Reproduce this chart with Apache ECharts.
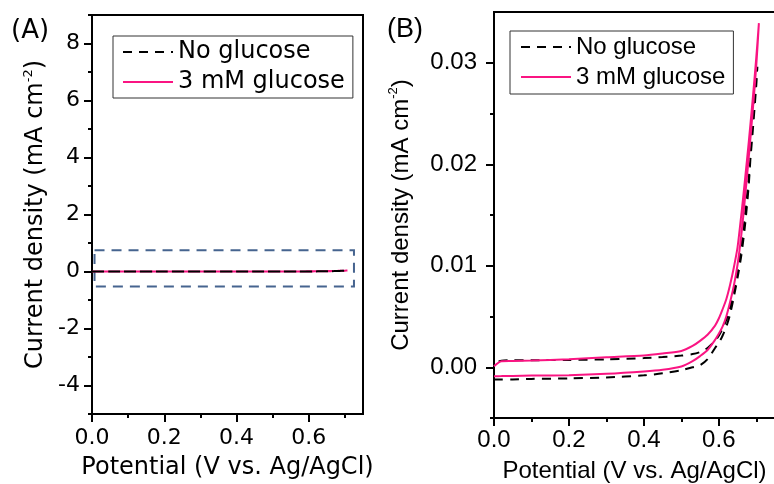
<!DOCTYPE html>
<html>
<head>
<meta charset="utf-8">
<title>CV</title>
<script src="https://cdn.jsdelivr.net/npm/echarts@6/dist/echarts.min.js"></script>
<style>
  html, body { margin: 0; padding: 0; background: #fff; }
  #cv { width: 774px; height: 484px; }
</style>
</head>
<body>
<div id="cv"></div>
<script>
// 电位 (V vs. Ag/AgCl)
const potential = [0.00, 0.02, 0.05, 0.10, 0.20, 0.30, 0.40, 0.45, 0.50, 0.53, 0.55, 0.57, 0.59, 0.60, 0.61, 0.62, 0.63, 0.64, 0.65, 0.66, 0.67, 0.68, 0.69, 0.70];

// 3 mM glucose: 正扫(下支) / 回扫(上支)
const glucoseForward = [-0.00088, -0.00087, -0.00085, -0.00082, -0.00078, -0.00065, -0.00042, -0.00025, 0.00008, 0.0006, 0.0011, 0.0017, 0.0027, 0.0033, 0.0040, 0.0050, 0.0064, 0.0080, 0.0101, 0.0130, 0.0167, 0.0207, 0.0250, 0.0297];
const glucoseReverse = [0.0001, 0.0006, 0.00062, 0.00066, 0.0008, 0.00098, 0.00115, 0.00135, 0.0016, 0.0021, 0.0026, 0.0032, 0.0041, 0.0048, 0.0057, 0.0067, 0.0081, 0.0098, 0.0118, 0.0150, 0.0185, 0.0222, 0.0262, 0.0305];
const glucoseVertex = [0.707, 0.0339];

// No glucose
const blankForward = [-0.0012, -0.0012, -0.0012, -0.00115, -0.0011, -0.0010, -0.0008, -0.0006, -0.0003, 0.0000, 0.0002, 0.0008, 0.0019, 0.0024, 0.0031, 0.0040, 0.0052, 0.0069, 0.0088, 0.0110, 0.0140, 0.0180, 0.0240, 0.0285];
const blankReverse = [0.0004, 0.00065, 0.0007, 0.0007, 0.00072, 0.00078, 0.0009, 0.0010, 0.00115, 0.0013, 0.0015, 0.0019, 0.0026, 0.0031, 0.0038, 0.0047, 0.0059, 0.0074, 0.0093, 0.0118, 0.0150, 0.0187, 0.0230, 0.0278];
const blankVertex = [0.703, 0.0296];

// 刻度
const xMajor = [0, 0.2, 0.4, 0.6];
const xMinor = [0.1, 0.3, 0.5, 0.7];
const yMajorA = [-4, -2, 0, 2, 4, 6, 8];
const yMinorA = [-5, -3, -1, 1, 3, 5, 7, 9];
const yMajorB = [0, 0.01, 0.02, 0.03];
const yMinorB = [-0.005, 0.005, 0.015, 0.025];

// (A)图中的虚线框
const zoomBox = [[0.007, 0.75], [0.725, -0.53]];

const PINK = '#fa1482';
const BOX_BLUE = '#46648f';
const FONT_A = 'DejaVu Sans';
const FONT_B = 'Liberation Sans';

// 一个CV闭环: 正扫 -> 顶点 -> 回扫
function cvLoop (forward, vertex, reverse) {
  const pts = potential.map(function (p, i) { return [p, forward[i]]; });
  pts.push(vertex);
  for (let i = potential.length - 1; i >= 0; i--) {
    pts.push([potential[i], reverse[i]]);
  }
  return pts;
}

function getEchartsCv () {
  const myChart = echarts.init(document.getElementById('cv'));

  const glucoseData = cvLoop(glucoseForward, glucoseVertex, glucoseReverse);
  const blankData = cvLoop(blankForward, blankVertex, blankReverse);

  function yName (font) {
    return {
      rich: {
        a: { fontSize: 24, fontFamily: font, color: '#000', lineHeight: 28 },
        s: { fontSize: 13, fontFamily: font, color: '#000', verticalAlign: 'top', lineHeight: 28 }
      }
    };
  }

  function majorX (grid, font, fontSize, margin, nameGap) {
    return {
      type: 'value', gridIndex: grid, position: 'bottom', min: 0, max: 0.75,
      name: 'Potential (V vs. Ag/AgCl)', nameLocation: 'middle', nameGap: nameGap,
      nameTextStyle: { fontSize: 24, fontFamily: font, color: '#000' },
      axisLine: { show: true, onZero: false, lineStyle: { color: '#000', width: 2 } },
      axisTick: { show: true, length: 8, lineStyle: { color: '#000', width: 2 }, customValues: xMajor },
      axisLabel: {
        fontSize: fontSize, fontFamily: font, color: '#000', margin: margin,
        customValues: xMajor,
        formatter: function (v) { return v.toFixed(1); }
      },
      splitLine: { show: false }
    };
  }

  function minorAxis (type, grid, min, max, values) {
    return {
      type: 'value', gridIndex: grid, position: type === 'x' ? 'bottom' : 'left', offset: 0,
      min: min, max: max,
      axisLine: { show: false, onZero: false },
      axisTick: { show: true, length: 4, lineStyle: { color: '#000', width: 2 }, customValues: values },
      axisLabel: { show: false },
      splitLine: { show: false }
    };
  }

  const legendBase = {
    orient: 'vertical',
    data: ['No glucose', '3 mM glucose'],
    itemWidth: 50,
    itemHeight: 14,
    itemGap: 4,
    itemStyle: { opacity: 0 }, // 不要图例里的圆点
    borderColor: '#333',
    borderWidth: 1,
    backgroundColor: '#fff',
    selectedMode: false
  };

  const option = {
    animation: false,
    backgroundColor: '#fff',
    graphic: [
      { type: 'text', x: 11, y: 18, style: { text: '(A)', fontSize: 26, fontFamily: FONT_A, fill: '#000' } },
      { type: 'text', x: 387, y: 16, style: { text: '(B)', fontSize: 27, fontFamily: FONT_B, fill: '#000' } }
    ],
    legend: [
      Object.assign({}, legendBase, {
        left: 113, top: 36, padding: [3, 8, 3, 9],
        textStyle: { fontSize: 24, fontFamily: FONT_A, color: '#000', lineHeight: 26 }
      }),
      Object.assign({}, legendBase, {
        left: 510, top: 31, padding: [3, 8, 4, 10],
        textStyle: { fontSize: 24, fontFamily: FONT_B, color: '#000', lineHeight: 26 }
      })
    ],
    grid: [
      { left: 92, top: 15, width: 271, height: 399, show: true, borderColor: '#000', borderWidth: 2, containLabel: false, outerBoundsMode: 'none' },
      { left: 494, top: 12, width: 281, height: 406, show: true, borderColor: '#000', borderWidth: 2, containLabel: false, outerBoundsMode: 'none' }
    ],
    xAxis: [
      majorX(0, FONT_A, 22, 13, 42),
      minorAxis('x', 0, 0, 0.75, xMinor),
      majorX(1, FONT_B, 24, 10, 41),
      minorAxis('x', 1, 0, 0.75, xMinor)
    ],
    yAxis: [
      {
        type: 'value', gridIndex: 0, position: 'left', min: -5, max: 9,
        name: '{a|Current density (mA cm}{s|-2}{a|)}', nameLocation: 'middle', nameGap: 42, nameRotate: 90,
        nameTextStyle: yName(FONT_A),
        axisLine: { show: true, onZero: false, lineStyle: { color: '#000', width: 2 } },
        axisTick: { show: true, length: 8, lineStyle: { color: '#000', width: 2 }, customValues: yMajorA },
        axisLabel: {
          fontSize: 22, fontFamily: FONT_A, color: '#000', margin: 12,
          customValues: yMajorA,
          formatter: function (v) { return String(Math.round(v)); }
        },
        splitLine: { show: false }
      },
      minorAxis('y', 0, -5, 9, yMinorA),
      {
        type: 'value', gridIndex: 1, position: 'left', min: -0.005, max: 0.035,
        name: '{a|Current density (mA cm}{s|-2}{a|)}', nameLocation: 'middle', nameGap: 79, nameRotate: 90,
        nameTextStyle: yName(FONT_B),
        axisLine: { show: true, onZero: false, lineStyle: { color: '#000', width: 2 } },
        axisTick: { show: true, length: 8, lineStyle: { color: '#000', width: 2 }, customValues: yMajorB },
        axisLabel: {
          fontSize: 24, fontFamily: FONT_B, color: '#000', margin: 17,
          customValues: yMajorB,
          formatter: function (v) { return v.toFixed(2); }
        },
        splitLine: { show: false }
      },
      minorAxis('y', 1, -0.005, 0.035, yMinorB)
    ],
    series: [
      // (A) 粉线在下, 黑虚线在上
      {
        name: '3 mM glucose', type: 'line', xAxisIndex: 0, yAxisIndex: 0,
        symbol: 'none', smooth: 0.25, data: glucoseData,
        lineStyle: { color: PINK, width: 2 }, itemStyle: { color: PINK },
        markArea: {
          silent: true,
          itemStyle: { color: 'rgba(0,0,0,0)', borderColor: BOX_BLUE, borderWidth: 2, borderType: [10, 7] },
          data: [[{ coord: zoomBox[0] }, { coord: zoomBox[1] }]]
        }
      },
      {
        name: 'No glucose', type: 'line', xAxisIndex: 0, yAxisIndex: 0,
        symbol: 'none', smooth: 0.25, data: blankData,
        lineStyle: { color: '#000', width: 2, type: [9, 7] }, itemStyle: { color: '#000' }
      },
      // (B) 黑虚线在下, 粉线在上
      {
        name: 'No glucose', type: 'line', xAxisIndex: 2, yAxisIndex: 2,
        symbol: 'none', smooth: 0.25, data: blankData,
        lineStyle: { color: '#000', width: 2, type: [9, 7] }, itemStyle: { color: '#000' }
      },
      {
        name: '3 mM glucose', type: 'line', xAxisIndex: 2, yAxisIndex: 2,
        symbol: 'none', smooth: 0.25, data: glucoseData,
        lineStyle: { color: PINK, width: 2 }, itemStyle: { color: PINK }
      }
    ]
  };

  myChart.setOption(option);

  window.addEventListener('resize', function () {
    myChart.resize();
  });
}

getEchartsCv();
</script>
</body>
</html>
